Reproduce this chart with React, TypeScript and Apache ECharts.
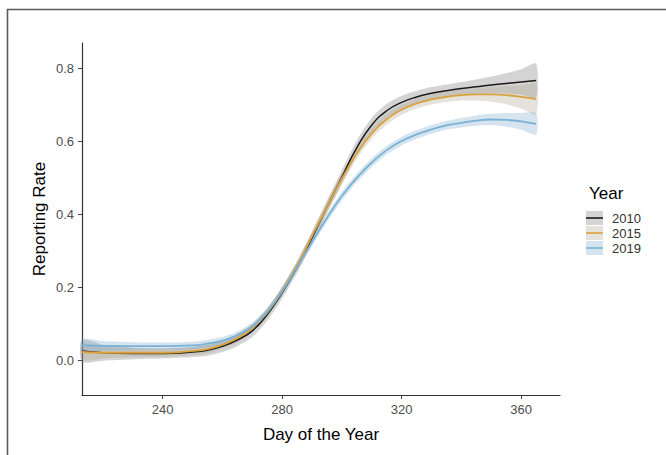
import React, { useEffect, useRef } from "react";
import * as echarts from "echarts";

const days = [213, 220, 230, 240, 250, 255, 260, 265, 270, 275, 280, 285, 290, 295, 300, 305, 310, 315, 320, 325, 330, 335, 340, 345, 350, 355, 360, 365];
const years = ["2010", "2015", "2019"];
const rate2010 = [0.025, 0.02, 0.018, 0.018, 0.022, 0.027, 0.038, 0.055, 0.08, 0.125, 0.185, 0.255, 0.335, 0.42, 0.502, 0.583, 0.645, 0.684, 0.707, 0.722, 0.732, 0.739, 0.745, 0.75, 0.755, 0.759, 0.763, 0.767];
const rate2015 = [0.022, 0.02, 0.02, 0.02, 0.025, 0.03, 0.042, 0.06, 0.088, 0.13, 0.19, 0.26, 0.34, 0.42, 0.498, 0.567, 0.622, 0.661, 0.687, 0.704, 0.715, 0.722, 0.727, 0.729, 0.729, 0.727, 0.722, 0.716];
const rate2019 = [0.04, 0.039, 0.038, 0.038, 0.04, 0.045, 0.053, 0.068, 0.092, 0.132, 0.188, 0.255, 0.324, 0.39, 0.45, 0.5, 0.542, 0.576, 0.601, 0.619, 0.633, 0.644, 0.651, 0.657, 0.66, 0.659, 0.655, 0.648];
const ci2010 = [0.03, 0.022, 0.016, 0.014, 0.014, 0.015, 0.016, 0.017, 0.017, 0.017, 0.016, 0.016, 0.017, 0.018, 0.019, 0.02, 0.02, 0.019, 0.018, 0.017, 0.017, 0.017, 0.018, 0.02, 0.023, 0.028, 0.035, 0.046];
const ci2015 = [0.022, 0.016, 0.012, 0.011, 0.011, 0.012, 0.012, 0.012, 0.012, 0.012, 0.012, 0.012, 0.013, 0.014, 0.015, 0.015, 0.015, 0.015, 0.014, 0.014, 0.014, 0.014, 0.015, 0.017, 0.02, 0.025, 0.032, 0.042];
const ci2019 = [0.018, 0.013, 0.011, 0.01, 0.01, 0.01, 0.01, 0.01, 0.01, 0.01, 0.01, 0.01, 0.011, 0.011, 0.012, 0.012, 0.012, 0.012, 0.012, 0.012, 0.012, 0.012, 0.013, 0.014, 0.016, 0.019, 0.023, 0.029];
const xTicks = [240, 280, 320, 360];
const yTicks = [0, 0.2, 0.4, 0.6, 0.8];

const lineColors = ["#1a1a1a", "#d9a23c", "#79b2d4"];
const bandColors = ["rgba(120,120,120,0.32)", "rgba(170,160,140,0.30)", "rgba(125,172,205,0.32)"];
const FONT = "Liberation Sans, Arial, sans-serif";

export default function App() {
  const ref = useRef<HTMLDivElement>(null);
  useEffect(() => {
    if (!ref.current) return;
    const chart = echarts.init(ref.current, null, { renderer: "svg" });
    const rates = [rate2010, rate2015, rate2019];
    const cis = [ci2010, ci2015, ci2019];
    const series: any[] = [];
    years.forEach((y, i) => {
      const lo = days.map((d, k) => [d, rates[i][k] - cis[i][k]]);
      const hi = days.map((d, k) => [d, rates[i][k] + cis[i][k]]);
      series.push({
        type: "custom",
        name: y + "-band",
        silent: true,
        data: [0],
        renderItem: (params: any, api: any) => {
          const upper = hi.map((p) => api.coord(p));
          const lower = lo.map((p) => api.coord(p)).reverse();
          return {
            type: "group",
            children: [
              {
                type: "polygon",
                shape: { points: upper.concat(lower), smooth: 0.25 },
                style: { fill: bandColors[i], stroke: "none" },
              },
            ],
          };
        },
        z: 1,
      });
      series.push({
        type: "line",
        name: y,
        smooth: true,
        symbol: "none",
        z: 2,
        lineStyle: { color: lineColors[i], width: i === 0 ? 1.5 : 1.8 },
        data: days.map((d, k) => [d, rates[i][k]]),
      });
    });

    const legendGraphics: any[] = [
      {
        type: "text",
        left: 589,
        top: 185,
        style: { text: "Year", fontSize: 17, fontFamily: FONT, fill: "#000" },
      },
    ];
    years.forEach((y, i) => {
      const cy = 218 + i * 15;
      legendGraphics.push({
        type: "rect",
        shape: { x: 586, y: cy - 7, width: 17, height: 14 },
        style: { fill: bandColors[i], stroke: "none" },
      });
      legendGraphics.push({
        type: "line",
        shape: { x1: 586, y1: cy, x2: 603, y2: cy },
        style: { stroke: lineColors[i], lineWidth: 1.6 },
      });
      legendGraphics.push({
        type: "text",
        x: 612,
        y: cy,
        style: { text: y, fontSize: 13, fontFamily: FONT, fill: "#333", verticalAlign: "middle" },
      });
    });

    chart.setOption({
      animation: false,
      backgroundColor: "#ffffff",
      grid: { left: 82, top: 43, right: 106, bottom: 60, containLabel: false },
      xAxis: {
        type: "value",
        min: 213,
        max: 373,
        name: "Day of the Year",
        nameLocation: "middle",
        nameGap: 31,
        nameMoveOverlap: false,
        nameTextStyle: { fontSize: 17, fontFamily: FONT, color: "#000" },
        axisLine: { show: true, onZero: false, lineStyle: { color: "#333", width: 1.2 } },
        axisTick: { show: true, length: 4, customValues: xTicks, lineStyle: { color: "#444" } },
        axisLabel: { customValues: xTicks, margin: 8, fontSize: 13, fontFamily: FONT, color: "#4d4d4d" },
        splitLine: { show: false },
      },
      yAxis: {
        type: "value",
        min: -0.096,
        max: 0.87,
        name: "Reporting Rate",
        nameLocation: "middle",
        nameGap: 34,
        nameMoveOverlap: false,
        nameTextStyle: { fontSize: 17, fontFamily: FONT, color: "#000" },
        axisLine: { show: true, onZero: false, lineStyle: { color: "#333", width: 1.2 } },
        axisTick: { show: true, length: 4, customValues: yTicks, lineStyle: { color: "#444" } },
        axisLabel: {
          customValues: yTicks,
          margin: 8,
          fontSize: 13,
          fontFamily: FONT,
          color: "#4d4d4d",
          formatter: (v: number) => v.toFixed(1),
        },
        splitLine: { show: false },
      },
      series,
      graphic: [
        {
          type: "rect",
          shape: { x: 7.5, y: 9.5, width: 700, height: 500 },
          style: { fill: "none", stroke: "#5a5a5a", lineWidth: 1.6 },
          silent: true,
        },
        ...legendGraphics,
      ],
    });
    return () => chart.dispose();
  }, []);
  return <div ref={ref} style={{ position: "fixed", left: 0, top: 0, width: 666, height: 455 }} />;
}
